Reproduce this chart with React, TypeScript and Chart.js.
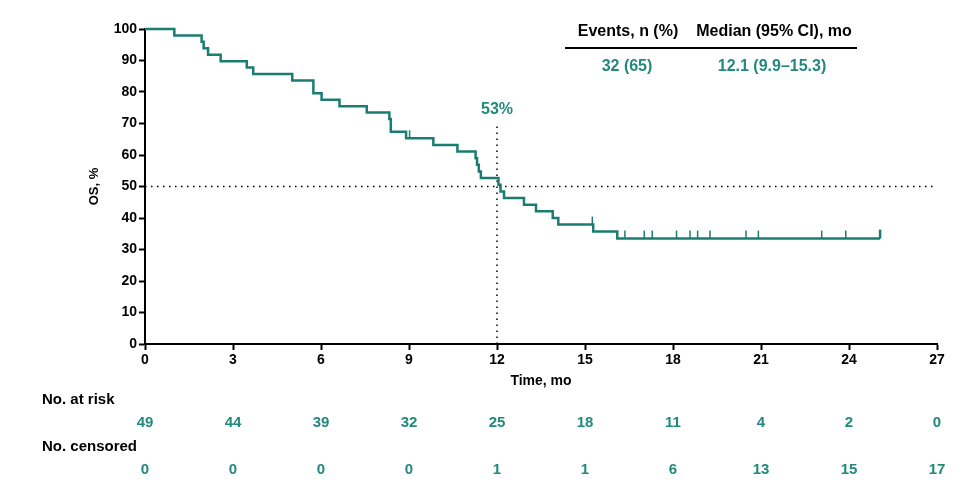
import { useEffect, useRef } from 'react';
import { Chart, registerables } from 'chart.js';

Chart.register(...registerables);

const TEAL = '#1b7d71';
const TEAL_TEXT = '#23897c';
const FONT = '"Liberation Sans", Arial, Helvetica, sans-serif';

// Kaplan–Meier step points (time in months, OS %)
const kmTimes = [
  0, 1.0, 1.93, 2.0, 2.15, 2.58, 3.47, 3.69, 5.02, 5.74, 6.02, 6.63, 7.56, 8.33, 8.38, 8.9,
  9.83, 10.65, 11.27, 11.32, 11.38, 11.45, 12.05, 12.12, 12.24, 12.92, 13.33, 13.9, 14.09,
  15.28, 16.1, 25.06,
];
const kmSurvival = [
  100, 97.96, 95.92, 93.88, 91.84, 89.8, 87.76, 85.71, 83.67, 79.59, 77.55, 75.51, 73.47,
  71.43, 67.35, 65.31, 63.2, 61.09, 58.98, 56.88, 54.77, 52.66, 50.56, 48.45, 46.35, 44.24,
  42.13, 40.03, 37.92, 35.69, 33.46, 33.46,
];

// Censoring marks (time in months)
const censorTimes = [
  9.02, 15.25, 16.36, 17.02, 17.29, 18.12, 18.58, 18.84, 19.26, 20.49, 20.91, 23.07, 23.89,
  25.06,
];

// Risk table
const riskTimes = [0, 3, 6, 9, 12, 15, 18, 21, 24, 27];
const atRisk = [49, 44, 39, 32, 25, 18, 11, 4, 2, 0];
const censoredCounts = [0, 0, 0, 0, 1, 1, 6, 13, 15, 17];

// Summary table
const summaryHeaders = ['Events, n (%)', 'Median (95% CI), mo'];
const summaryValues = ['32 (65)', '12.1 (9.9–15.3)'];

// Median reference
const medianTime = 12;
const medianLineTop = 70;
const referenceLevel = 50;
const medianLabel = '53%';

function survivalAt(t: number): number {
  let v = kmSurvival[0];
  for (let i = 0; i < kmTimes.length; i++) {
    if (kmTimes[i] <= t) v = kmSurvival[i];
  }
  return v;
}

const overlayPlugin = {
  id: 'kmOverlay',
  afterDatasetsDraw(chart: any) {
    const ctx = chart.ctx;
    const xs = chart.scales.x;
    const ys = chart.scales.y;
    ctx.save();
    ctx.strokeStyle = TEAL;
    censorTimes.forEach((t, i) => {
      const px = xs.getPixelForValue(t);
      const py = ys.getPixelForValue(survivalAt(t));
      const last = i === censorTimes.length - 1;
      ctx.lineWidth = last ? 2.5 : 1.5;
      ctx.beginPath();
      ctx.moveTo(px, py);
      ctx.lineTo(px, py - (last ? 9 : 8));
      ctx.stroke();
    });
    ctx.restore();
  },
  afterDraw(chart: any) {
    const ctx = chart.ctx;
    const xs = chart.scales.x;
    const area = chart.chartArea;
    ctx.save();
    ctx.textBaseline = 'middle';

    // median label
    ctx.font = `bold 16px ${FONT}`;
    ctx.fillStyle = TEAL_TEXT;
    ctx.textAlign = 'center';
    ctx.fillText(medianLabel, xs.getPixelForValue(medianTime), 110);

    // x axis title
    ctx.font = `bold 14px ${FONT}`;
    ctx.fillStyle = '#000';
    ctx.fillText('Time, mo', (area.left + area.right) / 2, 381);

    // summary table
    ctx.font = `bold 16px ${FONT}`;
    ctx.fillStyle = '#000';
    ctx.fillText(summaryHeaders[0], 628, 32);
    ctx.fillText(summaryHeaders[1], 774, 32);
    ctx.strokeStyle = '#000';
    ctx.lineWidth = 2;
    ctx.beginPath();
    ctx.moveTo(565, 48);
    ctx.lineTo(857, 48);
    ctx.stroke();
    ctx.fillStyle = TEAL_TEXT;
    ctx.fillText(summaryValues[0], 627, 67);
    ctx.fillText(summaryValues[1], 772, 67);

    // risk table
    ctx.font = `bold 15px ${FONT}`;
    ctx.textAlign = 'left';
    ctx.fillStyle = '#000';
    ctx.fillText('No. at risk', 42, 400);
    ctx.fillText('No. censored', 42, 447);
    ctx.textAlign = 'center';
    ctx.fillStyle = TEAL_TEXT;
    riskTimes.forEach((t, i) => {
      const px = xs.getPixelForValue(t);
      ctx.fillText(String(atRisk[i]), px, 423);
      ctx.fillText(String(censoredCounts[i]), px, 470);
    });
    ctx.restore();
  },
};

export default function App() {
  const canvasRef = useRef<HTMLCanvasElement | null>(null);

  useEffect(() => {
    if (!canvasRef.current) return;
    const chart = new Chart(canvasRef.current, {
      type: 'line',
      data: {
        datasets: [
          {
            data: kmTimes.map((t, i) => ({ x: t, y: kmSurvival[i] })),
            borderColor: TEAL,
            borderWidth: 2.5,
            stepped: true,
            pointRadius: 0,
            fill: false,
            clip: false as any,
            order: 0,
          },
          {
            data: [
              { x: riskTimes[0], y: referenceLevel },
              { x: riskTimes[riskTimes.length - 1], y: referenceLevel },
            ],
            borderColor: '#000',
            borderWidth: 1.5,
            borderDash: [1.5, 4.5],
            pointRadius: 0,
            fill: false,
            clip: false as any,
            order: 1,
          },
          {
            data: [
              { x: medianTime, y: 0 },
              { x: medianTime, y: medianLineTop },
            ],
            borderColor: '#000',
            borderWidth: 1.5,
            borderDash: [1.5, 4.5],
            pointRadius: 0,
            fill: false,
            clip: false as any,
            order: 1,
          },
        ],
      },
      options: {
        animation: false,
        responsive: false,
        events: [],
        layout: { padding: { left: 87, right: 34, top: 29, bottom: 0 } },
        plugins: {
          legend: { display: false },
          tooltip: { enabled: false },
        },
        scales: {
          x: {
            type: 'linear',
            min: 0,
            max: 27,
            afterFit: (scale: any) => {
              scale.height = 154;
            },
            afterBuildTicks: (scale: any) => {
              scale.ticks = riskTimes.map((v) => ({ value: v }));
            },
            ticks: {
              autoSkip: false,
              maxRotation: 0,
              padding: 2,
              color: '#000',
              font: { family: FONT, size: 14, weight: 'bold' },
            },
            grid: {
              display: true,
              drawOnChartArea: false,
              drawTicks: true,
              tickLength: 6,
              tickColor: '#000',
              tickWidth: 2,
            },
            border: { display: true, color: '#000', width: 2 },
          },
          y: {
            type: 'linear',
            min: 0,
            max: 100,
            afterFit: (scale: any) => {
              scale.width = 58;
            },
            ticks: {
              stepSize: 10,
              autoSkip: false,
              padding: 2,
              color: '#000',
              font: { family: FONT, size: 14, weight: 'bold' },
            },
            grid: {
              display: true,
              drawOnChartArea: false,
              drawTicks: true,
              tickLength: 6,
              tickColor: '#000',
              tickWidth: 2,
            },
            border: { display: true, color: '#000', width: 2 },
            title: {
              display: true,
              text: 'OS, %',
              color: '#000',
              font: { family: FONT, size: 13, weight: 'bold' },
              padding: { top: 0, bottom: 0 },
            },
          },
        },
      } as any,
      plugins: [overlayPlugin],
    });
    return () => chart.destroy();
  }, []);

  return (
    <div style={{ position: 'fixed', left: 0, top: 0, width: 971, height: 498, background: '#fff' }}>
      <canvas ref={canvasRef} width={971} height={498} style={{ width: 971, height: 498 }} />
    </div>
  );
}
